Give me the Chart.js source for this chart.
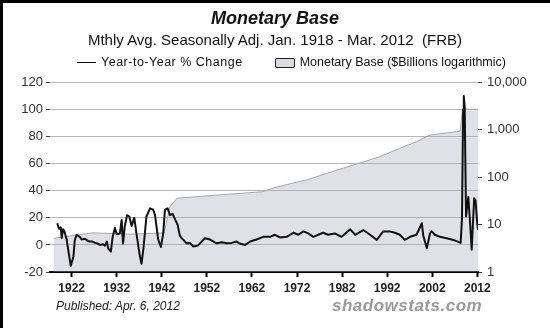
<!DOCTYPE html>
<html>
<head>
<meta charset="utf-8">
<script src="https://cdn.jsdelivr.net/npm/chart.js@4.4.1/dist/chart.umd.min.js"></script>
<style>
  body { margin: 0; background: #fff; }
  #wrap { position: relative; width: 550px; height: 328px; overflow: hidden; font-family: "Liberation Sans", Arial, sans-serif; color: #111; }
  #wrap canvas { position: absolute; left: 0; top: 0; }
  .frame-top { position: absolute; left: 0; top: 0; width: 550px; height: 3px; background: #000; }
  .frame-left { position: absolute; left: 0; top: 0; width: 3px; height: 328px; background: #000; }
  .txt { position: absolute; white-space: nowrap; line-height: 1; }
  #title { left: 0; width: 550px; text-align: center; top: 9px; font-size: 18px; font-weight: bold; font-style: italic; }
  #subtitle { left: 0; width: 550px; text-align: center; top: 32px; font-size: 15px; }
  #legend { top: 56px; left: 77px; font-size: 12.5px; }
  #legend .ln { display: inline-block; width: 19px; height: 0; border-top: 1.5px solid #000; vertical-align: middle; margin-right: 5px; }
  #legend .lbl1 { letter-spacing: 0.5px; }
  #legend .bx { display: inline-block; width: 18px; height: 8px; border: 1px solid #222; border-radius: 2px; background: #dcdce2; vertical-align: middle; margin: 0 5px 0 32px; }
  #published { left: 56px; top: 300px; font-size: 12px; font-style: italic; color: #222; }
  #source { left: 332px; top: 297px; font-size: 17px; font-weight: bold; font-style: italic; color: #9a9a9a; letter-spacing: 0.5px; }
</style>
</head>
<body>
<div id="wrap">
  <canvas id="chart" width="550" height="328"></canvas>
  <div class="frame-top"></div>
  <div class="frame-left"></div>
  <div class="txt" id="title">Monetary Base</div>
  <div class="txt" id="subtitle">Mthly Avg. Seasonally Adj. Jan. 1918 - Mar. 2012&nbsp; (FRB)</div>
  <div class="txt" id="legend"><span class="ln"></span><span class="lbl1">Year-to-Year % Change</span><span class="bx"></span>Monetary Base ($Billions logarithmic)</div>
  <div class="txt" id="published">Published: Apr. 6, 2012</div>
  <div class="txt" id="source">shadowstats.com</div>
</div>
<script>
// x axis labels
const tickYears = [1922, 1932, 1942, 1952, 1962, 1972, 1982, 1992, 2002, 2012];
const logTicks = [1, 10, 100, 1000, 10000];

// year-to-year % change (left axis)
const yoyYears = [
  1918.8, 1919.2, 1919.6, 1919.8, 1920.1, 1920.4, 1920.9, 1921.3, 1921.6, 1921.8,
  1922.1, 1922.4, 1922.7, 1923.1, 1923.8, 1924.2, 1925.0, 1925.6, 1926.0, 1926.6,
  1927.2, 1927.8, 1928.3, 1929.0, 1929.4, 1929.8, 1930.1, 1930.7, 1931.1, 1931.6,
  1932.0, 1932.7, 1933.1, 1933.4, 1933.8, 1934.3, 1934.8, 1935.3, 1935.9, 1936.4,
  1937.1, 1937.5, 1937.9, 1938.6, 1939.4, 1940.1, 1940.5, 1941.2, 1941.8, 1942.3,
  1942.7, 1943.3, 1943.8, 1944.4, 1945.0, 1945.5, 1946.0, 1946.4, 1947.5, 1948.2,
  1949.0, 1950.0, 1951.0, 1951.6, 1952.7, 1953.5, 1954.2, 1955.3, 1956.4, 1957.5,
  1958.6, 1959.3, 1960.5, 1961.6, 1963.0, 1964.5, 1966.0, 1967.1, 1968.2, 1969.7,
  1971.2, 1972.3, 1973.4, 1974.5, 1975.6, 1976.7, 1977.8, 1978.9, 1980.4, 1981.9,
  1983.8, 1984.9, 1986.7, 1988.2, 1989.7, 1991.1, 1992.6, 1993.7, 1994.8, 1995.9,
  1997.1, 1998.5, 1999.7, 2000.0, 2000.8, 2001.5, 2001.9, 2002.6, 2003.7, 2005.2,
  2006.7, 2008.3, 2008.6, 2008.85, 2009.0, 2009.2, 2009.35, 2009.5, 2009.8, 2010.0,
  2010.4, 2010.75, 2011.3, 2011.6, 2012.0, 2012.2
];
const yoyChange = [
  16, 12, 13, 5, 11.5, 10, 4, -5, -11, -15.5,
  -12, -8.5, 3.5, 7.5, 6, 4, 4.5, 3, 2.5, 2.5,
  1.5, 1, 0, 0.5, -0.5, 2.5, -2.5, -5, 6, 12.5,
  8, 8.5, 18.5, 1, 14, 22, 21, 14, 20, 8,
  -7.5, -14, -3.5, 21, 27, 26, 22, 4, -1.5, 8,
  26, 27, 22, 23, 18.5, 15, 7, 5, 1.2, 1.5,
  -1.2, -0.5, 3, 5, 4, 2.5, 1.2, 2, 1.2, 1.5,
  2.5, 1, 0, 2.5, 4, 6, 6, 7.5, 5.5, 6,
  9, 7.5, 10, 8.5, 6, 7.5, 9, 7.5, 8.5, 6,
  11.5, 7.5, 11, 7.5, 3.7, 10, 10, 9, 7.5, 3.7,
  6, 7.5, 16, 7, -2.5, 8.5, 10, 7.5, 6, 5,
  3.7, 1.5, 20, 100, 110, 102, 60, 21, 30, 35.5,
  16, -3.5, 34.5, 33, 15, 11
];

// monetary base, $ billions (right log axis)
const baseYears = [
  1918.0, 1924.5, 1926.7, 1935.0, 1942.5, 1943.8, 1945.4, 1954.2, 1964.4, 1966.7,
  1971.1, 1974.1, 1982.0, 1990.4, 1994.8, 1998.5, 2001.5, 2007.4, 2008.2, 2008.7,
  2012.15
];
const baseBillions = [
  5.1, 6.3, 6.7, 6.3, 6.7, 23.9, 36, 42, 49.5, 59,
  75.6, 87.5, 153, 272, 408, 563, 780, 915, 946, 2755,
  2715
];

const toPoints = (xs, ys) => xs.map((x, i) => ({ x: x, y: ys[i] }));

const tickFont = { family: '"Liberation Sans", Arial, sans-serif', size: 13 };

new Chart(document.getElementById('chart').getContext('2d'), {
    type: 'line',
    data: {
        datasets: [{
            label: 'Monetary Base ($Billions logarithmic)',
            data: toPoints(baseYears, baseBillions),
            yAxisID: 'yLog',
            fill: 'start',
            backgroundColor: 'rgba(170,170,190,0.36)',
            borderColor: '#a6a6ae',
            borderWidth: 1,
            pointRadius: 0,
            order: 2
        }, {
            label: 'Year-to-Year % Change',
            data: toPoints(yoyYears, yoyChange),
            yAxisID: 'y',
            fill: false,
            borderColor: '#111',
            borderWidth: 2,
            borderJoinStyle: 'round',
            pointRadius: 0,
            order: 1
        }]
    },
    options: {
        responsive: false,
        animation: false,
        devicePixelRatio: 1,
        layout: { padding: { top: 82.5, left: 0, right: 0, bottom: 0 } },
        plugins: { legend: { display: false }, tooltip: { enabled: false }, title: { display: false } },
        scales: {
            x: {
                type: 'linear',
                min: 1917.2,
                max: 2012.15,
                afterBuildTicks: axis => { axis.ticks = tickYears.map(v => ({ value: v })); },
                afterFit: s => { s.height = 56; },
                ticks: {
                    callback: v => String(v),
                    color: '#222',
                    padding: 4,
                    maxRotation: 0,
                    autoSkip: false,
                    font: { family: tickFont.family, size: 12, weight: 'bold' }
                },
                grid: { drawOnChartArea: false, drawTicks: true, tickLength: 5, tickColor: '#000', tickWidth: 2 },
                border: { display: true, color: '#000', width: 2 }
            },
            y: {
                position: 'left',
                min: -20,
                max: 120,
                afterFit: s => { s.width = 50; },
                ticks: { stepSize: 20, color: '#333', padding: 3, font: tickFont },
                grid: { color: '#b6b6b6', lineWidth: 1, tickLength: 4, tickColor: '#444' },
                border: { display: false }
            },
            yLog: {
                type: 'logarithmic',
                position: 'right',
                min: 1,
                max: 10000,
                afterBuildTicks: axis => { axis.ticks = logTicks.map(v => ({ value: v })); },
                afterFit: s => { s.width = 72; },
                ticks: {
                    callback: v => v.toLocaleString('en-US'),
                    color: '#333',
                    padding: 5,
                    font: tickFont
                },
                grid: { drawOnChartArea: false, tickLength: 4, tickColor: '#444' },
                border: { display: false }
            }
        }
    }
});
</script>
</body>
</html>
